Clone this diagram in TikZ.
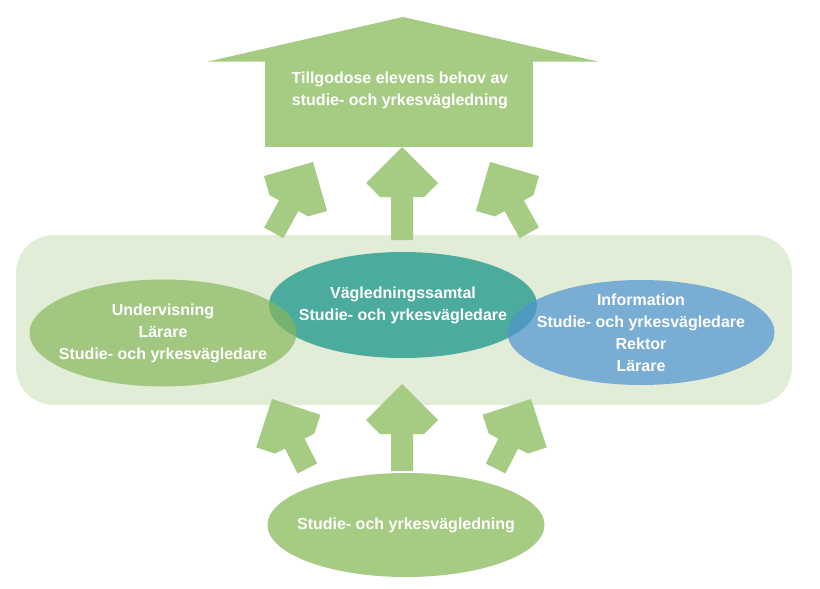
\documentclass[tikz,border=0pt]{standalone}
\usepackage{fontspec}
\setmainfont{Liberation Sans}
\usetikzlibrary{shapes.geometric}
\definecolor{agreen}{RGB}{166,203,131}
\definecolor{ogreen}{RGB}{136,184,92}
\definecolor{teal2}{RGB}{75,172,157}
\definecolor{oblue}{RGB}{79,147,209}
\definecolor{lightbg}{RGB}{226,237,216}
\newcommand\blockarrow[4]{%
  \fill[agreen, shift={(#1,#2)}, rotate=#3] (0,0) -- (36,36) -- (22,50) -- (11,50) -- (11,#4) -- (-11,#4) -- (-11,50) -- (-22,50) -- (-36,36) -- cycle;}
\begin{document}
\begin{tikzpicture}[x=1pt,y=-1pt,
  txt/.style={text=white, font=\bfseries\fontsize{16}{22}\selectfont, align=center},
  oval/.style={ellipse, draw=none, inner sep=0pt}]
\useasboundingbox (0,0) rectangle (820,589);
% background band
\node (band) [fill=lightbg, rounded corners=38pt, minimum width=776pt, minimum height=170pt, inner sep=0pt] at (404,320) {};
% top goal arrow
\node (goal) [fill=agreen, minimum width=268pt, minimum height=86pt, inner sep=0pt] at (399,104) {};
\fill[agreen] (208,61.5) -- (403,17) -- (598,61.5) -- cycle;
\node (goaltext) [txt] at (400,90) {Tillgodose elevens behov av\\studie- och yrkesvägledning};
% arrows up
\blockarrow{402}{147}{0}{93}
\blockarrow{313}{162}{-29}{81}
\blockarrow{490}{162}{29}{81}
\blockarrow{402}{384}{0}{87}
\blockarrow{272}{399}{27}{78}
\blockarrow{531}{399}{-27}{78}
% ellipses
\node (samtal) [oval, fill=teal2, minimum width=268pt, minimum height=106pt,
  label={[txt]center:Vägledningssamtal\\Studie- och yrkesvägledare}] at (403,305) {};
\node (undervisning) [oval, fill=ogreen, fill opacity=0.7, minimum width=267pt, minimum height=107pt,
  label={[txt]center:Undervisning\\Lärare\\Studie- och yrkesvägledare}] at (163,333) {};
\node (information) [oval, fill=oblue, fill opacity=0.7, minimum width=267pt, minimum height=105pt,
  label={[txt]center:Information\\Studie- och yrkesvägledare\\Rektor\\Lärare}] at (641,332.5) {};
\node (svl) [oval, fill=agreen, minimum width=277pt, minimum height=104pt,
  label={[txt]center:Studie- och yrkesvägledning}] at (406,525) {};
\end{tikzpicture}
\end{document}
